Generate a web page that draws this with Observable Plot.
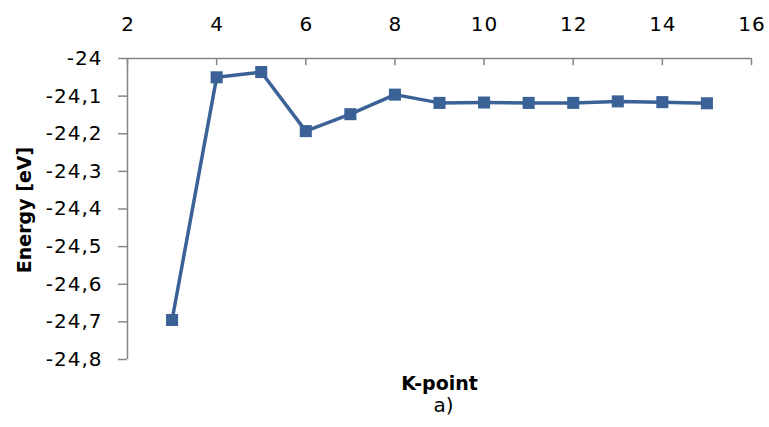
<!DOCTYPE html>
<html>
<head>
<meta charset="utf-8">
<script src="https://cdn.jsdelivr.net/npm/d3@7"></script>
<script src="https://cdn.jsdelivr.net/npm/@observablehq/plot@0.6"></script>
<style>
  html, body { margin: 0; padding: 0; background: #fff; }
  g[aria-label="x-axis tick label"] text,
  g[aria-label="y-axis tick label"] text { letter-spacing: 1px; }
</style>
</head>
<body>
<div id="chart"></div>
<script>
const kpoints = [3, 4, 5, 6, 7, 8, 9, 10, 11, 12, 13, 14, 15];
const energy = [-24.695, -24.050, -24.036, -24.193, -24.148, -24.096, -24.118, -24.117, -24.118, -24.118, -24.114, -24.116, -24.119];
const xTicks = [2, 4, 6, 8, 10, 12, 14, 16];
const yTicks = [-24, -24.1, -24.2, -24.3, -24.4, -24.5, -24.6, -24.7, -24.8];
const xLabel = "K-point";
const yLabel = "Energy [eV]";
const panelLabel = "a)";

const data = kpoints.map((k, i) => ({k, e: energy[i]}));
const axisGray = "#868686";
const lineBlue = "#3a6296";
const fmt = d => String(d).replace(".", ",");

const chart = Plot.plot({
  width: 769,
  height: 427,
  marginTop: 58,
  marginLeft: 127,
  marginRight: 18,
  marginBottom: 68,
  style: {fontFamily: "DejaVu Sans", fontSize: "20px", color: "#000", background: "#fff"},
  x: {domain: [2, 16]},
  y: {domain: [-24.8, -24]},
  marks: [
    Plot.ruleY([-24], {stroke: axisGray, strokeWidth: 1.5}),
    Plot.ruleX([2], {stroke: axisGray, strokeWidth: 1.5}),
    Plot.ruleX(xTicks, {x: d => d, y1: -24, y2: -24.019, stroke: axisGray, strokeWidth: 1.5}),
    Plot.axisX(xTicks, {anchor: "top", tickSize: 0, tickPadding: 28, label: null, tickFormat: fmt, fontSize: 20, dx: 0.5}),
    Plot.axisY(yTicks, {anchor: "left", tickSize: 9, tickPadding: 16, label: null, tickFormat: fmt, stroke: axisGray, strokeWidth: 1.5, fontSize: 20}),
    Plot.line(data, {x: "k", y: "e", stroke: lineBlue, strokeWidth: 3.5}),
    Plot.dot(data, {x: "k", y: "e", symbol: "square", r: 6.8, fill: lineBlue, stroke: "none"}),
    Plot.text([xLabel], {frameAnchor: "bottom", dy: 24, lineAnchor: "middle", fontWeight: "bold", fontSize: 19}),
    Plot.text([panelLabel], {frameAnchor: "bottom", dx: 4, dy: 46, lineAnchor: "middle", fontSize: 20}),
    Plot.text([yLabel], {frameAnchor: "left", dx: -103, dy: 1, rotate: -90, textAnchor: "middle", lineAnchor: "middle", fontWeight: "bold", fontSize: 19})
  ]
});
document.getElementById("chart").appendChild(chart);
</script>
</body>
</html>
